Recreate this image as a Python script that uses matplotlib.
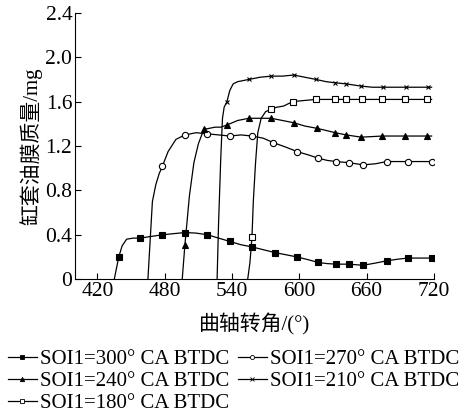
import numpy as np
import matplotlib
matplotlib.use('Agg')
from matplotlib import pyplot as plt
from matplotlib.lines import Line2D

plt.rcParams['font.family'] = ['Liberation Serif', 'Noto Sans CJK SC']

# curves (crank angle, film mass)
x300 = [435, 437, 439, 442, 446, 452, 458, 468, 478, 488, 498, 508, 518, 528, 538, 548, 558, 568,
        578, 588, 598, 608, 617, 625, 633, 644, 657, 668, 678, 688, 697, 718]
y300 = [0, 0.1, 0.2, 0.3, 0.36, 0.37, 0.37, 0.385, 0.40, 0.41, 0.42, 0.415, 0.40, 0.37, 0.34, 0.31,
        0.29, 0.265, 0.24, 0.22, 0.20, 0.175, 0.15, 0.14, 0.135, 0.135, 0.125, 0.145, 0.165, 0.18, 0.19, 0.19]
m300 = [439, 458, 478, 498, 518, 538, 558, 578, 598, 617, 633, 644, 657, 678, 697, 718]

x270 = [465, 467, 469, 472, 475, 478, 483, 490, 498, 508, 518, 528, 538, 548, 558, 568, 577, 588,
        598, 608, 617, 625, 633, 644, 657, 668, 678, 697, 718]
y270 = [0, 0.35, 0.7, 0.85, 0.95, 1.02, 1.15, 1.26, 1.30, 1.32, 1.31, 1.30, 1.29, 1.30, 1.29, 1.27,
        1.23, 1.19, 1.15, 1.12, 1.09, 1.07, 1.06, 1.05, 1.03, 1.04, 1.06, 1.06, 1.06]
m270 = [478, 498, 518, 538, 558, 577, 598, 617, 633, 644, 657, 678, 697, 718]

x240 = [495.6, 498, 502, 506, 510, 513, 515, 520, 525, 530, 535.6, 545, 555, 565, 575, 585, 595, 605,
        615.5, 624, 632, 642, 655, 665, 674, 694.7, 714, 718]
y240 = [0, 0.31, 0.75, 1.05, 1.22, 1.30, 1.35, 1.36, 1.37, 1.37, 1.39, 1.43, 1.45, 1.45, 1.45, 1.43,
        1.41, 1.38, 1.36, 1.34, 1.32, 1.30, 1.28, 1.285, 1.29, 1.29, 1.29, 1.29]
m240 = [498, 515, 535.6, 555, 575, 595, 615.5, 632, 642, 655, 674, 694.7, 714]

x210 = [526.7, 528, 530, 531.5, 533, 535.5, 538, 541, 545, 550, 555, 565, 575, 585, 595, 605, 615,
        624, 632, 642, 655, 665, 675, 695, 715, 718]
y210 = [0, 0.5, 1.1, 1.45, 1.55, 1.60, 1.70, 1.76, 1.78, 1.79, 1.80, 1.82, 1.83, 1.83, 1.84, 1.82,
        1.80, 1.78, 1.77, 1.76, 1.74, 1.73, 1.73, 1.73, 1.73, 1.73]
m210 = [535.5, 555, 575, 595, 615, 632, 642, 655, 675, 695, 715]

x180 = [554, 556, 557.8, 559, 561, 563, 566, 570, 574.7, 580, 586, 594, 604, 614.7, 632, 642, 655.6,
        674, 694.7, 714, 718]
y180 = [0, 0.15, 0.38, 0.7, 1.05, 1.32, 1.45, 1.51, 1.53, 1.55, 1.56, 1.60, 1.61, 1.62, 1.62, 1.62,
        1.62, 1.62, 1.62, 1.62, 1.62]
m180 = [557.8, 574.7, 594, 614.7, 632, 642, 655.6, 674, 694.7, 714]

labels = ['SOI1=300° CA BTDC', 'SOI1=270° CA BTDC', 'SOI1=240° CA BTDC',
          'SOI1=210° CA BTDC', 'SOI1=180° CA BTDC']
xticks = [420, 480, 540, 600, 660, 720]
yticks = [0, 0.4, 0.8, 1.2, 1.6, 2.0, 2.4]
yticklabels = ['0', '0.4', '0.8', '1.2', '1.6', '2.0', '2.4']

series = [(x300, y300, m300, dict(marker='s', mfc='k', ms=4.5)),
          (x270, y270, m270, dict(marker='o', mfc='w', ms=4.5)),
          (x240, y240, m240, dict(marker='^', mfc='k', ms=4.8)),
          (x210, y210, m210, dict(marker='x', mfc='k', ms=3.5)),
          (x180, y180, m180, dict(marker='s', mfc='w', ms=4.5))]

fig = plt.figure(figsize=(4.69, 4.16), dpi=100)
ax = fig.add_axes([0.16, 0.329, 0.765, 0.64])

handles = []
for (xs, ys, ms_, st), lab in zip(series, labels):
    ax.plot(xs, ys, color='k', lw=0.9)
    ax.plot(ms_, np.interp(ms_, xs, ys), ls='none', color='k', mec='k', mew=0.8,
            marker=st['marker'], mfc=st['mfc'], ms=st['ms'])
    handles.append(Line2D([], [], color='k', lw=0.9, marker=st['marker'], mfc=st['mfc'],
                          mec='k', mew=0.6, ms=st['ms'] * 0.65, label=lab))

ax.set_xlim(400, 720)
ax.set_ylim(0, 2.4)
ax.set_xticks(xticks)
ax.set_yticks(yticks)
ax.set_yticklabels(yticklabels)
ax.spines['top'].set_visible(False)
ax.spines['right'].set_visible(False)
ax.tick_params(direction='in', length=4, width=0.8, labelsize=15.5, pad=2)
ax.set_xlabel('曲轴转角/(°)', fontsize=15, labelpad=9)
ax.set_ylabel('缸套油膜质量/mg', fontsize=15, labelpad=2)

order = [0, 2, 4, 1, 3]
fig.legend([handles[i] for i in order], [labels[i] for i in order], ncol=2,
           loc='upper left', bbox_to_anchor=(-0.01, 0.19), frameon=False, fontsize=15,
           handlelength=1.4, handletextpad=0.15, columnspacing=0.4, labelspacing=0.12,
           borderpad=0.1)

fig.savefig('out.png', dpi=100)
